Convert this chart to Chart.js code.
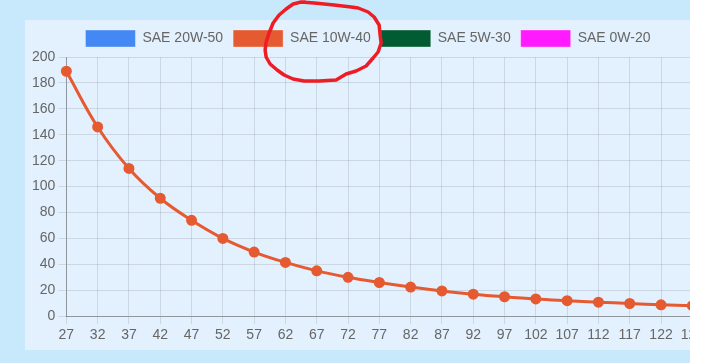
<!DOCTYPE html>
<html>
<head>
<meta charset="utf-8">
<script src="https://cdn.jsdelivr.net/npm/chart.js@4/dist/chart.umd.min.js"></script>
<style>
  html, body { margin: 0; padding: 0; background: #ffffff; }
  body { width: 706px; height: 363px; position: relative; overflow: hidden; }
  #outer { position: absolute; left: 0; top: 0; width: 690px; height: 363px; background: #c8e9fc; }
  #panel { position: absolute; left: 25px; top: 20px; width: 665px; height: 330px; background: #e3f0fd; overflow: hidden; }
  #wrap { position: absolute; left: 0; top: 0; width: 682px; height: 330px; }
  #overlay { position: absolute; left: 0; top: 0; width: 706px; height: 363px; pointer-events: none; }
</style>
</head>
<body>
<div id="outer"></div>
<div id="panel"><div id="wrap"><canvas id="c" width="682" height="330"></canvas></div></div>
<canvas id="overlay" width="706" height="363"></canvas>
<script>
// ---- data ----
const temperatures = [27, 32, 37, 42, 47, 52, 57, 62, 67, 72, 77, 82, 87, 92, 97, 102, 107, 112, 117, 122, 127];
const sae20w50 = [];
const sae10w40 = [189, 146, 114, 91, 74, 60, 49.5, 41.5, 35, 30, 26, 22.5, 19.5, 17, 15, 13.3, 12, 10.8, 9.8, 8.8, 8.1];
const sae5w30 = [];
const sae0w20 = [];
const seriesNames = ['SAE 20W-50', 'SAE 10W-40', 'SAE 5W-30', 'SAE 0W-20'];
const yTicks = { min: 0, max: 200, step: 20 };

const FONT = "'Liberation Sans', Arial, Helvetica, sans-serif";
Chart.defaults.font.family = FONT;
Chart.defaults.font.size = 14;
Chart.defaults.color = '#666';

function ds(label, data, color) {
  return {
    label: label, data: data,
    borderColor: color, backgroundColor: color,
    borderWidth: 3, tension: 0.4,
    pointRadius: 4, pointBackgroundColor: color, pointBorderColor: color,
    fill: false
  };
}

const chart = new Chart(document.getElementById('c'), {
  type: 'line',
  data: {
    labels: temperatures,
    datasets: [
      ds(seriesNames[0], sae20w50, '#4488f4'),
      ds(seriesNames[1], sae10w40, '#e55a30'),
      ds(seriesNames[2], sae5w30, '#035b34'),
      ds(seriesNames[3], sae0w20, '#ff1aff')
    ]
  },
  options: {
    responsive: false,
    animation: false,
    devicePixelRatio: 1,
    layout: { padding: { left: 4, right: 0, top: 0, bottom: 3 } },
    plugins: {
      legend: {
        labels: {
          boxWidth: 50, boxHeight: 17, padding: 10,
          color: '#666', font: { size: 14, family: FONT },
          generateLabels: function(ch) {
            const items = Chart.defaults.plugins.legend.labels.generateLabels(ch);
            items.forEach(function(it) { it.lineWidth = 1; it.strokeStyle = 'rgba(255,255,255,0.35)'; });
            return items;
          }
        }
      },
      tooltip: { enabled: false }
    },
    scales: {
      x: {
        grid: { color: 'rgba(0,0,0,0.1)', tickLength: 8 },
        border: { color: 'rgba(0,0,0,0.3)' },
        ticks: { color: '#666', font: { size: 14 }, maxRotation: 0, autoSkip: false }
      },
      y: {
        min: yTicks.min, max: yTicks.max,
        grid: { color: 'rgba(0,0,0,0.1)', tickLength: 8 },
        border: { color: 'rgba(0,0,0,0.3)' },
        ticks: { stepSize: yTicks.step, color: '#666', font: { size: 14 } }
      }
    }
  }
});

// hand-drawn red annotation around the second legend entry
(function() {
  const hb = chart.legend.legendHitBoxes[1];
  const canvasRect = document.getElementById('c').getBoundingClientRect();
  const ox = canvasRect.left + hb.left, oy = canvasRect.top + hb.top;
  const rel = [[68,-28],[81,-27],[101,-25],[118,-23],[125,-22],[135,-18],[141,-13],[146,-5],[147,5],[148,13],[145,22],[140,28],[133,36],[123,41],[113,44],[108,47],[103,50],[86,51],[71,51],[60,49],[51,45],[44,40],[37,34],[33,27],[32,20],[33,12],[36,3],[40,-7],[46,-15],[53,-21],[60,-26],[68,-28],[72,-28]];
  const ctx = document.getElementById('overlay').getContext('2d');
  ctx.strokeStyle = '#ee1c25';
  ctx.lineWidth = 3.5;
  ctx.lineJoin = 'round';
  ctx.lineCap = 'round';
  ctx.beginPath();
  rel.forEach(function(p, i) {
    const x = ox + p[0], y = oy + p[1];
    if (i === 0) ctx.moveTo(x, y); else ctx.lineTo(x, y);
  });
  ctx.stroke();
})();
</script>
</body>
</html>
